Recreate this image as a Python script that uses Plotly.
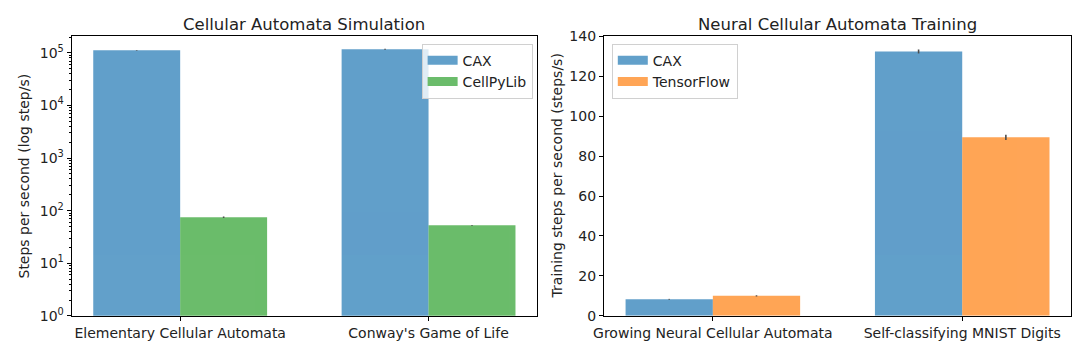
import plotly.graph_objects as go

# ---- data ----
sim_categories = ["Elementary Cellular Automata", "Conway's Game of Life"]
sim_cax = [112000, 117000]
sim_cax_err = [1500, 3000]
sim_cellpylib = [75, 52.5]
sim_cellpylib_err = [2.5, 1.0]

nca_categories = ["Growing Neural Cellular Automata", "Self-classifying MNIST Digits"]
nca_cax = [8.3, 132.4]
nca_cax_err = [0.2, 1.0]
nca_tf = [10.0, 89.4]
nca_tf_err = [0.3, 1.3]

log_tick_vals = [1, 10, 100, 1000, 10000, 100000]
log_tick_text = ["10<sup>0</sup>", "10<sup>1</sup>", "10<sup>2</sup>",
                 "10<sup>3</sup>", "10<sup>4</sup>", "10<sup>5</sup>"]

BLUE = "#1f77b4"
GREEN = "#2ca02c"
ORANGE = "#ff7f0e"
BLUE_A = "#62a0ca"
GREEN_A = "#6bbc6b"
ORANGE_A = "#ffa556"
FONT = "DejaVu Sans"
TXT = "#222222"

# page has an 8px body margin; the figure is sized to fit inside the window
OFF = 8
W, H = 1064, 339
L1, R1 = 62.7, 532.0
L2, R2 = 600.5, 1071.7
TOP, BOT = 29.3, 322.7


def px(x):
    return (x - OFF) / W


def py(y):
    return (H - (y - OFF)) / H


fig = go.Figure()


def err(arr):
    return dict(type="data", array=arr, color="black", thickness=1.6, width=0)


def bar(x, y, e, name, color, ax, leg):
    fig.add_trace(go.Bar(x=x, y=y, name=name, marker=dict(color=color, line_width=0),
                         opacity=0.7, error_y=err(e), xaxis=ax[0], yaxis=ax[1],
                         legend=leg, legendgroup=leg + name, showlegend=False))


def legend_entry(name, color, ax, leg):
    fig.add_trace(go.Scatter(x=[None], y=[None], mode="lines", name=name,
                             line=dict(color=color, width=9), xaxis=ax[0], yaxis=ax[1],
                             legend=leg, legendgroup=leg + name, showlegend=True))


bar(sim_categories, sim_cax, sim_cax_err, "CAX", BLUE, ("x", "y"), "legend")
bar(sim_categories, sim_cellpylib, sim_cellpylib_err, "CellPyLib", GREEN, ("x", "y"), "legend")
bar(nca_categories, nca_cax, nca_cax_err, "CAX", BLUE, ("x2", "y2"), "legend2")
bar(nca_categories, nca_tf, nca_tf_err, "TensorFlow", ORANGE, ("x2", "y2"), "legend2")
legend_entry("CAX", BLUE_A, ("x", "y"), "legend")
legend_entry("CellPyLib", GREEN_A, ("x", "y"), "legend")
legend_entry("CAX", BLUE_A, ("x2", "y2"), "legend2")
legend_entry("TensorFlow", ORANGE_A, ("x2", "y2"), "legend2")

ydom = [py(BOT), py(TOP)]
axis_common = dict(showline=True, mirror=True, linecolor="black", linewidth=1,
                   ticks="outside", ticklen=4.5, tickcolor="black", showgrid=False,
                   zeroline=False, tickfont=dict(family=FONT, size=14, color=TXT))

minor_vals = [m * 10 ** e for e in range(0, 6) for m in range(2, 10)]

legend_style = dict(bgcolor="rgba(255,255,255,0.8)", bordercolor="#d0d0d0", borderwidth=1,
                    font=dict(family=FONT, size=14, color=TXT), tracegroupgap=0,
                    itemwidth=30, yanchor="top")

fig.update_layout(
    width=W, height=H,
    margin=dict(l=0, r=0, t=0, b=0),
    paper_bgcolor="white", plot_bgcolor="white",
    barmode="group", bargap=0.3, bargroupgap=0,
    font=dict(family=FONT, color=TXT),
    showlegend=True,
    xaxis=dict(domain=[px(L1), px(R1)], range=[-0.435, 1.435], anchor="y", **axis_common),
    yaxis=dict(domain=ydom, type="log", range=[0, 5.315], anchor="x",
               tickvals=log_tick_vals, ticktext=log_tick_text,
               minor=dict(ticks="outside", ticklen=2.5, tickcolor="black", tickvals=minor_vals),
               **axis_common),
    xaxis2=dict(domain=[px(L2), px(R2)], range=[-0.435, 1.435], anchor="y2", **axis_common),
    yaxis2=dict(domain=ydom, range=[0, 140], dtick=20, anchor="x2", **axis_common),
    legend=dict(x=px(528), y=py(37), xanchor="right", **legend_style),
    legend2=dict(x=px(608), y=py(37), xanchor="left", **legend_style),
    annotations=[
        dict(text="Cellular Automata Simulation", x=px((L1 + R1) / 2), y=py(16.5),
             xref="paper", yref="paper", showarrow=False, xanchor="center", yanchor="middle",
             font=dict(family=FONT, size=16.5, color=TXT)),
        dict(text="Neural Cellular Automata Training", x=px((L2 + R2) / 2), y=py(16.5),
             xref="paper", yref="paper", showarrow=False, xanchor="center", yanchor="middle",
             font=dict(family=FONT, size=16.5, color=TXT)),
        dict(text="Steps per second (log step/s)", x=px(14.5), y=py((TOP + BOT) / 2),
             xref="paper", yref="paper", showarrow=False, xanchor="center", yanchor="middle",
             textangle=-90, font=dict(family=FONT, size=14, color=TXT)),
        dict(text="Training steps per second (steps/s)", x=px(553), y=py((TOP + BOT) / 2),
             xref="paper", yref="paper", showarrow=False, xanchor="center", yanchor="middle",
             textangle=-90, font=dict(family=FONT, size=14, color=TXT)),
    ],
)

fig.write_html("out.html")
